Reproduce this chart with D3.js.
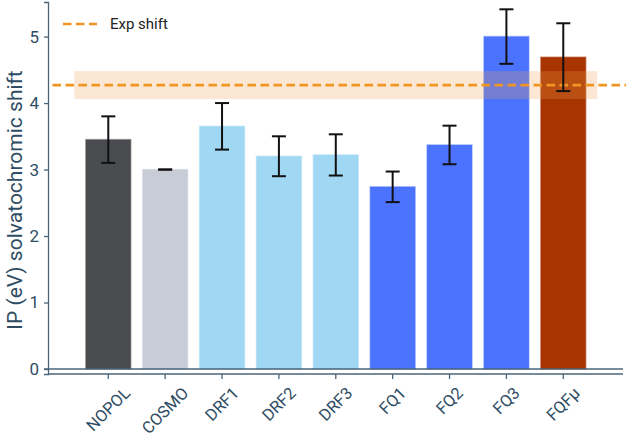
<!DOCTYPE html>
<html>
<head>
<meta charset="utf-8">
<script src="https://cdn.jsdelivr.net/npm/d3@7"></script>
<style>
  body { margin: 0; background: #fff; }
  text { font-family: Roboto, "Noto Sans", sans-serif; }
</style>
</head>
<body>
<div id="chart"></div>
<script>
// data
const categories = ["NOPOL", "COSMO", "DRF1", "DRF2", "DRF3", "FQ1", "FQ2", "FQ3", "FQF\u03bc"];
const shifts = [3.45, 3.00, 3.65, 3.20, 3.22, 2.74, 3.37, 5.00, 4.69];
const errors = [0.35, 0.00, 0.35, 0.30, 0.31, 0.23, 0.29, 0.41, 0.51];
const barColors = ["#4b4c50", "#c8ccd6", "#a0d8f3", "#a0d8f3", "#a0d8f3", "#4b73ff", "#4b73ff", "#4b73ff", "#a83400"];
const expShift = 4.27;
const expRange = [4.06, 4.48];
const yTicks = [0, 1, 2, 3, 4, 5];

const W = 626, H = 437;
const axisColor = "#4a6478", labelColor = "#2f4d64";

const svg = d3.select("#chart").append("svg")
    .attr("width", W)
    .attr("height", H);

// scales (index units on x, like a matplotlib bar axis)
const xIdx = d3.scaleLinear().domain([-1.06, 9.05]).range([48, 623]);
const x = d3.scaleBand()
    .domain(categories)
    .range([xIdx(-0.5), xIdx(8.5)])
    .paddingInner(0.21)
    .paddingOuter(0.105);
const y = d3.scaleLinear().domain([-0.075, 5.52]).range([374, 2]);

// bars
svg.append("g").selectAll("rect")
    .data(categories)
    .join("rect")
    .attr("x", d => x(d))
    .attr("width", x.bandwidth())
    .attr("y", (d, i) => y(shifts[i]))
    .attr("height", (d, i) => y(0) - y(shifts[i]))
    .attr("fill", (d, i) => barColors[i])
    .attr("stroke", (d, i) => barColors[i])
    .attr("stroke-opacity", 0.45)
    .attr("stroke-width", 1.5);

// experimental shift band + dashed line
svg.append("rect")
    .attr("x", xIdx(-0.6))
    .attr("width", xIdx(8.6) - xIdx(-0.6))
    .attr("y", y(expRange[1]))
    .attr("height", y(expRange[0]) - y(expRange[1]))
    .attr("fill", "#f0a050")
    .attr("fill-opacity", 0.25);

svg.append("line")
    .attr("x1", 48).attr("x2", W)
    .attr("y1", y(expShift)).attr("y2", y(expShift))
    .attr("stroke", "#ef9522")
    .attr("stroke-width", 2.6)
    .attr("stroke-dasharray", "8.5,4.5")
    .attr("stroke-dashoffset", -4.5);

// zero line
svg.append("line")
    .attr("x1", 44).attr("x2", 623)
    .attr("y1", y(0)).attr("y2", y(0))
    .attr("stroke", axisColor)
    .attr("stroke-width", 1.3);

// error bars
const err = svg.append("g").selectAll("g")
    .data(categories)
    .join("g")
    .attr("transform", d => `translate(${x(d) + x.bandwidth() / 2},0)`);
err.append("line")
    .attr("y1", (d, i) => y(shifts[i] + errors[i]))
    .attr("y2", (d, i) => y(shifts[i] - errors[i]))
    .attr("stroke", "#111").attr("stroke-width", 2);
err.selectAll("line.cap")
    .data((d, i) => [shifts[i] + errors[i], shifts[i] - errors[i]])
    .join("line")
    .attr("class", "cap")
    .attr("x1", -7).attr("x2", 7)
    .attr("y1", v => y(v)).attr("y2", v => y(v))
    .attr("stroke", "#111").attr("stroke-width", 2);

// y axis
const yAxis = d3.axisLeft(y).tickValues(yTicks).tickFormat(d3.format("d")).tickSize(4).tickPadding(5);
const yg = svg.append("g")
    .attr("transform", "translate(48,0)")
    .call(yAxis);
yg.select(".domain").attr("stroke", axisColor).attr("stroke-width", 1.3);
yg.selectAll(".tick line").attr("stroke", axisColor).attr("stroke-width", 1.3);
yg.selectAll(".tick text")
    .attr("fill", labelColor)
    .attr("font-size", "17px");

// x axis
const xAxis = d3.axisBottom(x).tickSize(5).tickFormat("");
const xg = svg.append("g")
    .attr("transform", `translate(0,${y(-0.075)})`)
    .call(xAxis);
xg.select(".domain").remove();
xg.append("line")
    .attr("x1", 48).attr("x2", 623)
    .attr("stroke", axisColor).attr("stroke-width", 1.6);
xg.selectAll(".tick line").attr("stroke", axisColor).attr("stroke-width", 1.3);

// rotated tick labels, centred under each tick like matplotlib ha='center'
const labelTop = 386;
svg.append("g").selectAll("text")
    .data(categories)
    .join("text")
    .attr("fill", labelColor)
    .attr("font-size", "16.5px")
    .attr("text-anchor", "middle")
    .attr("dominant-baseline", "central")
    .text(d => d)
    .each(function(d) {
        const len = this.getComputedTextLength();
        const half = (len + 12) / (2 * Math.SQRT2);
        d3.select(this).attr("transform",
            `translate(${x(d) + x.bandwidth() / 2},${labelTop + half}) rotate(-45)`);
    });

// y label
svg.append("text")
    .attr("transform", `translate(15,${(y(5.52) + y(-0.075)) / 2 + 12}) rotate(-90)`)
    .attr("text-anchor", "middle")
    .attr("dominant-baseline", "central")
    .attr("fill", labelColor)
    .attr("font-size", "21px")
    .text("IP (eV) solvatochromic shift");

// legend
const lg = svg.append("g").attr("transform", "translate(63,24)");
lg.append("line")
    .attr("x1", 0).attr("x2", 34)
    .attr("stroke", "#ef9522")
    .attr("stroke-width", 2.6)
    .attr("stroke-dasharray", "8.5,4.5");
lg.append("text")
    .attr("x", 47)
    .attr("dominant-baseline", "central")
    .attr("fill", "#222")
    .attr("font-size", "15px")
    .text("Exp shift");
</script>
</body>
</html>
